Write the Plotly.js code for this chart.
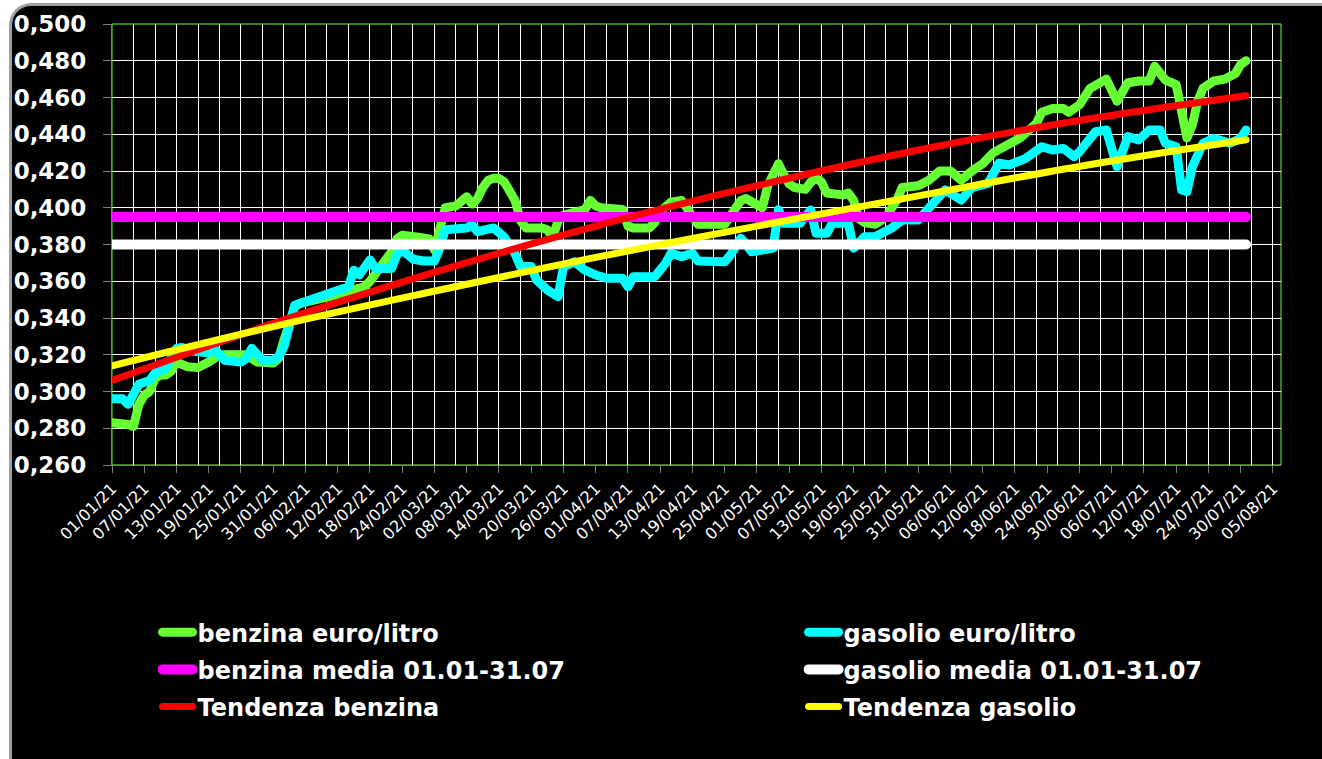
<!DOCTYPE html>
<html>
<head>
<meta charset="utf-8">
<script src="https://cdn.plot.ly/plotly-3.0.1.min.js"></script>
<style>
  html, body { margin: 0; padding: 0; width: 1322px; height: 759px; overflow: hidden; background: #ffffff; }
  #frame { position: absolute; left: 9px; top: 3px; width: 1340px; height: 790px; background: #000000;
           border-top: 3px solid #a0a0a0; border-left: 3px solid #a0a0a0; border-top-left-radius: 22px; }
  #chart { position: absolute; left: 0; top: 0; width: 1322px; height: 759px; }
  #chart .scatterlayer path.js-line, #chart .legendlines path { stroke-linecap: round !important; stroke-linejoin: round !important; }
</style>
</head>
<body>
<div id="frame"></div>
<div id="chart"></div>
<script>
// ---- data ----
const benzinaDates = ['2021-01-01','2021-01-03','2021-01-04','2021-01-05','2021-01-06','2021-01-07','2021-01-08','2021-01-09','2021-01-10','2021-01-11','2021-01-12','2021-01-13','2021-01-14','2021-01-15','2021-01-17','2021-01-18','2021-01-19','2021-01-20','2021-01-21','2021-01-26','2021-01-28','2021-01-31','2021-02-01','2021-02-02','2021-02-03','2021-02-04','2021-02-05','2021-02-07','2021-02-09','2021-02-11','2021-02-13','2021-02-15','2021-02-17','2021-02-18','2021-02-19','2021-02-20','2021-02-21','2021-02-22','2021-02-23','2021-02-24','2021-02-27','2021-03-01','2021-03-02','2021-03-03','2021-03-04','2021-03-06','2021-03-07','2021-03-08','2021-03-09','2021-03-10','2021-03-11','2021-03-12','2021-03-13','2021-03-14','2021-03-15','2021-03-16','2021-03-17','2021-03-18','2021-03-19','2021-03-22','2021-03-23','2021-03-24','2021-03-25','2021-03-26','2021-03-28','2021-03-30','2021-03-31','2021-04-01','2021-04-02','2021-04-06','2021-04-07','2021-04-08','2021-04-11','2021-04-12','2021-04-13','2021-04-14','2021-04-15','2021-04-17','2021-04-18','2021-04-19','2021-04-20','2021-04-25','2021-04-26','2021-04-27','2021-04-28','2021-04-29','2021-04-30','2021-05-01','2021-05-02','2021-05-03','2021-05-04','2021-05-05','2021-05-06','2021-05-07','2021-05-08','2021-05-10','2021-05-11','2021-05-12','2021-05-13','2021-05-14','2021-05-17','2021-05-18','2021-05-19','2021-05-20','2021-05-21','2021-05-23','2021-05-25','2021-05-27','2021-05-28','2021-05-31','2021-06-02','2021-06-04','2021-06-06','2021-06-08','2021-06-10','2021-06-12','2021-06-14','2021-06-16','2021-06-19','2021-06-22','2021-06-23','2021-06-25','2021-06-27','2021-06-28','2021-06-30','2021-07-02','2021-07-03','2021-07-05','2021-07-07','2021-07-09','2021-07-11','2021-07-13','2021-07-14','2021-07-16','2021-07-18','2021-07-19','2021-07-20','2021-07-21','2021-07-22','2021-07-23','2021-07-25','2021-07-27','2021-07-29','2021-07-30','2021-07-31'];
const benzinaValues = [0.283,0.283,0.282,0.281,0.293,0.298,0.300,0.307,0.309,0.309,0.311,0.316,0.315,0.3135,0.313,0.314,0.316,0.318,0.320,0.320,0.316,0.3155,0.318,0.328,0.338,0.346,0.348,0.349,0.350,0.352,0.354,0.356,0.357,0.360,0.364,0.368,0.371,0.376,0.383,0.385,0.384,0.383,0.377,0.388,0.400,0.401,0.403,0.406,0.402,0.405,0.411,0.415,0.416,0.416,0.414,0.410,0.404,0.393,0.389,0.389,0.388,0.384,0.393,0.396,0.397,0.399,0.404,0.401,0.400,0.399,0.390,0.389,0.389,0.392,0.398,0.401,0.403,0.404,0.400,0.394,0.391,0.391,0.395,0.398,0.404,0.405,0.403,0.401,0.400,0.412,0.418,0.424,0.418,0.413,0.411,0.410,0.414,0.416,0.414,0.408,0.407,0.408,0.404,0.394,0.392,0.391,0.395,0.404,0.411,0.412,0.415,0.420,0.420,0.415,0.420,0.424,0.430,0.433,0.438,0.446,0.452,0.454,0.454,0.452,0.456,0.465,0.467,0.470,0.458,0.468,0.469,0.469,0.477,0.4695,0.467,0.450,0.438,0.445,0.458,0.465,0.469,0.470,0.473,0.478,0.480];

const gasolioDates = ['2021-01-01','2021-01-03','2021-01-04','2021-01-05','2021-01-06','2021-01-08','2021-01-09','2021-01-11','2021-01-12','2021-01-13','2021-01-14','2021-01-16','2021-01-19','2021-01-20','2021-01-21','2021-01-22','2021-01-25','2021-01-26','2021-01-27','2021-01-28','2021-01-29','2021-01-31','2021-02-01','2021-02-02','2021-02-03','2021-02-04','2021-02-06','2021-02-08','2021-02-11','2021-02-13','2021-02-14','2021-02-15','2021-02-16','2021-02-18','2021-02-19','2021-02-22','2021-02-23','2021-02-24','2021-02-26','2021-02-28','2021-03-02','2021-03-03','2021-03-04','2021-03-08','2021-03-09','2021-03-10','2021-03-13','2021-03-15','2021-03-17','2021-03-18','2021-03-20','2021-03-21','2021-03-23','2021-03-25','2021-03-26','2021-03-28','2021-03-30','2021-04-01','2021-04-03','2021-04-06','2021-04-07','2021-04-08','2021-04-12','2021-04-14','2021-04-15','2021-04-17','2021-04-19','2021-04-20','2021-04-25','2021-04-26','2021-04-27','2021-04-28','2021-04-29','2021-04-30','2021-05-04','2021-05-05','2021-05-06','2021-05-09','2021-05-11','2021-05-12','2021-05-14','2021-05-15','2021-05-18','2021-05-19','2021-05-21','2021-05-23','2021-05-26','2021-05-28','2021-05-31','2021-06-02','2021-06-05','2021-06-08','2021-06-10','2021-06-13','2021-06-15','2021-06-17','2021-06-20','2021-06-23','2021-06-25','2021-06-27','2021-06-29','2021-06-30','2021-07-03','2021-07-05','2021-07-07','2021-07-09','2021-07-11','2021-07-13','2021-07-15','2021-07-16','2021-07-18','2021-07-19','2021-07-20','2021-07-21','2021-07-23','2021-07-25','2021-07-28','2021-07-30','2021-07-31'];
const gasolioValues = [0.296,0.296,0.293,0.300,0.304,0.306,0.310,0.3126,0.318,0.3235,0.324,0.322,0.321,0.3235,0.320,0.317,0.316,0.318,0.3235,0.320,0.317,0.317,0.319,0.3244,0.335,0.347,0.349,0.351,0.354,0.355,0.357,0.366,0.3634,0.3716,0.367,0.367,0.3743,0.377,0.372,0.371,0.371,0.378,0.388,0.389,0.3906,0.387,0.389,0.384,0.375,0.368,0.368,0.3607,0.3552,0.3516,0.368,0.3706,0.366,0.3634,0.3616,0.3616,0.357,0.3625,0.3625,0.3698,0.3752,0.3734,0.3752,0.371,0.3706,0.374,0.380,0.3834,0.380,0.376,0.378,0.399,0.3915,0.3915,0.3988,0.3861,0.3861,0.3915,0.3915,0.378,0.3842,0.3842,0.3888,0.3933,0.3933,0.4006,0.4097,0.4042,0.411,0.4133,0.4242,0.4233,0.4269,0.4332,0.4314,0.4323,0.4278,0.4305,0.4414,0.4423,0.4223,0.4387,0.4369,0.4423,0.4423,0.4351,0.4332,0.4097,0.4087,0.4223,0.4351,0.4378,0.4351,0.4378,0.4423];

const periodDates = ['2021-01-01', '2021-07-31'];
const mediaBenzina = 0.395;
const mediaGasolio = 0.380;
// trend curves (Excel polynomial trendlines), read at month boundaries
const trendDates = ['2021-01-01','2021-02-01','2021-03-01','2021-04-01','2021-05-01','2021-06-01','2021-07-01','2021-07-31'];
const tendenzaBenzina = [0.306, 0.338, 0.364, 0.390, 0.412, 0.432, 0.448, 0.461];
const tendenzaGasolio = [0.314, 0.336, 0.354, 0.373, 0.390, 0.407, 0.423, 0.437];

const seriesNames = ['benzina euro/litro', 'gasolio euro/litro', 'benzina media 01.01-31.07',
                     'gasolio media 01.01-31.07', 'Tendenza benzina', 'Tendenza gasolio'];
const seriesColors = ['#66ff33', '#00ffff', '#ff00ff', '#ffffff', '#ff0000', '#ffff00'];

const DAY = 86400000;

function lineTrace(x, y, i, width, xaxis, legend, shape) {
  return { x: x, y: y, name: seriesNames[i], type: 'scatter', mode: 'lines',
           line: { color: seriesColors[i], width: width, shape: shape || 'linear' }, xaxis: xaxis, yaxis: 'y',
           legend: legend, legendgroup: 'g' + i };
}

const traces = [
  lineTrace(benzinaDates, benzinaValues, 0, 9, 'x', 'legend'),
  lineTrace(gasolioDates, gasolioValues, 1, 9, 'x', 'legend2'),
  lineTrace(periodDates, periodDates.map(() => mediaBenzina), 2, 10, 'x2', 'legend'),
  lineTrace(periodDates, periodDates.map(() => mediaGasolio), 3, 10, 'x2', 'legend2'),
  lineTrace(trendDates, tendenzaBenzina, 4, 7, 'x2', 'legend', 'spline'),
  lineTrace(trendDates, tendenzaGasolio, 5, 7, 'x2', 'legend2', 'spline')
];

const xRange = ['2021-01-01', '2021-08-06 12:00'];
const legendFont = { family: 'DejaVu Sans', size: 24, color: '#ffffff', weight: 'bold' };

const layout = {
  width: 1322, height: 759,
  margin: { l: 112, r: 41, t: 24, b: 294, autoexpand: false },
  paper_bgcolor: 'rgba(0,0,0,0)',
  plot_bgcolor: '#000000',
  separators: ',.',
  showlegend: true,
  font: { family: 'DejaVu Sans', color: '#ffffff' },
  xaxis: {
    type: 'date', range: xRange,
    tick0: '2021-01-01', dtick: 6 * DAY, tickformat: '%d/%m/%y', tickangle: -45,
    ticks: 'outside', ticklen: 7, tickcolor: '#808080', tickwidth: 1,
    showgrid: false, zeroline: false,
    showline: true, linecolor: '#808080', linewidth: 1,
    tickfont: { family: 'DejaVu Sans', size: 16, color: '#ffffff' }
  },
  xaxis2: {
    type: 'date', range: xRange, overlaying: 'x', anchor: 'y', side: 'bottom',
    tick0: '2021-01-01', dtick: 4 * DAY,
    showgrid: true, gridcolor: '#ffffff', gridwidth: 1,
    showticklabels: false, ticks: '', zeroline: false, showline: false
  },
  yaxis: {
    range: [0.26, 0.50], dtick: 0.02, tick0: 0.26, tickformat: '.3f',
    showgrid: true, gridcolor: '#ffffff', gridwidth: 1,
    ticks: 'outside', ticklen: 8, tickcolor: '#808080', tickwidth: 1,
    ticklabelstandoff: 12,
    showline: true, linecolor: '#808080', linewidth: 1, zeroline: false,
    tickfont: { family: 'DejaVu Sans', size: 23, color: '#ffffff', weight: 'bold' }
  },
  shapes: [
    { type: 'rect', xref: 'paper', yref: 'paper', x0: 0, x1: 1, y0: 0, y1: 1,
      line: { color: '#66ff33', width: 1 }, layer: 'below' }
  ],
  legend: {
    orientation: 'v', x: 0.039, xanchor: 'left', y: -0.329, yanchor: 'top',
    bgcolor: 'rgba(0,0,0,0)', font: legendFont, traceorder: 'grouped', tracegroupgap: 3
  },
  legend2: {
    orientation: 'v', x: 0.5916, xanchor: 'left', y: -0.329, yanchor: 'top',
    bgcolor: 'rgba(0,0,0,0)', font: legendFont, traceorder: 'grouped', tracegroupgap: 3
  }
};

Plotly.newPlot('chart', traces, layout, { displayModeBar: false, staticPlot: true });
</script>
</body>
</html>
